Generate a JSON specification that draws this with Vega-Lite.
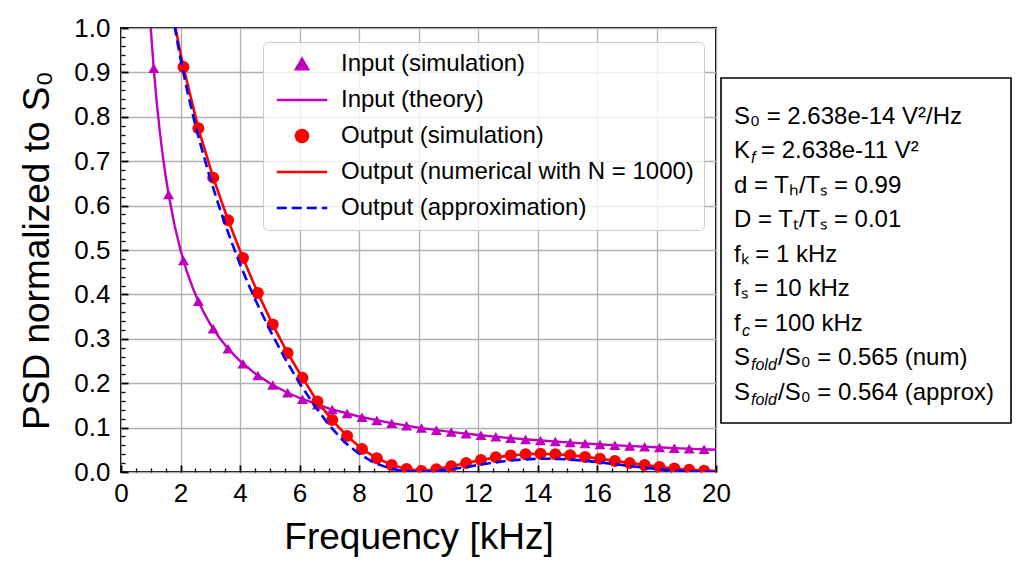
{
  "$schema": "https://vega.github.io/schema/vega-lite/v6.json",
  "background": "white",
  "padding": {"left": 17, "top": 14, "right": 5, "bottom": 5},
  "config": {
    "font": "Liberation Sans",
    "view": {"stroke": null}
  },
  "bounds": "flush",
  "spacing": 5,
  "hconcat": [
    {
      "width": 595,
      "height": 444,
      "view": {"stroke": "black", "strokeWidth": 2},
      "data": {
        "values": [
          {"series": "Input (simulation)", "f": 1.1, "v": 0.9091},
          {"series": "Input (simulation)", "f": 1.6, "v": 0.625},
          {"series": "Input (simulation)", "f": 2.1, "v": 0.4762},
          {"series": "Input (simulation)", "f": 2.6, "v": 0.3846},
          {"series": "Input (simulation)", "f": 3.1, "v": 0.3226},
          {"series": "Input (simulation)", "f": 3.6, "v": 0.2778},
          {"series": "Input (simulation)", "f": 4.1, "v": 0.2439},
          {"series": "Input (simulation)", "f": 4.6, "v": 0.2174},
          {"series": "Input (simulation)", "f": 5.1, "v": 0.1961},
          {"series": "Input (simulation)", "f": 5.6, "v": 0.1786},
          {"series": "Input (simulation)", "f": 6.1, "v": 0.1639},
          {"series": "Input (simulation)", "f": 6.6, "v": 0.1515},
          {"series": "Input (simulation)", "f": 7.1, "v": 0.1408},
          {"series": "Input (simulation)", "f": 7.6, "v": 0.1316},
          {"series": "Input (simulation)", "f": 8.1, "v": 0.1235},
          {"series": "Input (simulation)", "f": 8.6, "v": 0.1163},
          {"series": "Input (simulation)", "f": 9.1, "v": 0.1099},
          {"series": "Input (simulation)", "f": 9.6, "v": 0.1042},
          {"series": "Input (simulation)", "f": 10.1, "v": 0.099},
          {"series": "Input (simulation)", "f": 10.6, "v": 0.0943},
          {"series": "Input (simulation)", "f": 11.1, "v": 0.0901},
          {"series": "Input (simulation)", "f": 11.6, "v": 0.0862},
          {"series": "Input (simulation)", "f": 12.1, "v": 0.0826},
          {"series": "Input (simulation)", "f": 12.6, "v": 0.0794},
          {"series": "Input (simulation)", "f": 13.1, "v": 0.0763},
          {"series": "Input (simulation)", "f": 13.6, "v": 0.0735},
          {"series": "Input (simulation)", "f": 14.1, "v": 0.0709},
          {"series": "Input (simulation)", "f": 14.6, "v": 0.0685},
          {"series": "Input (simulation)", "f": 15.1, "v": 0.0662},
          {"series": "Input (simulation)", "f": 15.6, "v": 0.0641},
          {"series": "Input (simulation)", "f": 16.1, "v": 0.0621},
          {"series": "Input (simulation)", "f": 16.6, "v": 0.0602},
          {"series": "Input (simulation)", "f": 17.1, "v": 0.0585},
          {"series": "Input (simulation)", "f": 17.6, "v": 0.0568},
          {"series": "Input (simulation)", "f": 18.1, "v": 0.0552},
          {"series": "Input (simulation)", "f": 18.6, "v": 0.0538},
          {"series": "Input (simulation)", "f": 19.1, "v": 0.0524},
          {"series": "Input (simulation)", "f": 19.6, "v": 0.051},

          {"series": "Input (theory)", "f": 0.9, "v": 1.1111},
          {"series": "Input (theory)", "f": 0.95, "v": 1.0526},
          {"series": "Input (theory)", "f": 1.0, "v": 1.0},
          {"series": "Input (theory)", "f": 1.1, "v": 0.9091},
          {"series": "Input (theory)", "f": 1.2, "v": 0.8333},
          {"series": "Input (theory)", "f": 1.3, "v": 0.7692},
          {"series": "Input (theory)", "f": 1.4, "v": 0.7143},
          {"series": "Input (theory)", "f": 1.5, "v": 0.6667},
          {"series": "Input (theory)", "f": 1.6, "v": 0.625},
          {"series": "Input (theory)", "f": 1.8, "v": 0.5556},
          {"series": "Input (theory)", "f": 2.0, "v": 0.5},
          {"series": "Input (theory)", "f": 2.2, "v": 0.4545},
          {"series": "Input (theory)", "f": 2.4, "v": 0.4167},
          {"series": "Input (theory)", "f": 2.6, "v": 0.3846},
          {"series": "Input (theory)", "f": 2.8, "v": 0.3571},
          {"series": "Input (theory)", "f": 3.0, "v": 0.3333},
          {"series": "Input (theory)", "f": 3.3, "v": 0.303},
          {"series": "Input (theory)", "f": 3.6, "v": 0.2778},
          {"series": "Input (theory)", "f": 4.0, "v": 0.25},
          {"series": "Input (theory)", "f": 4.5, "v": 0.2222},
          {"series": "Input (theory)", "f": 5.0, "v": 0.2},
          {"series": "Input (theory)", "f": 5.5, "v": 0.1818},
          {"series": "Input (theory)", "f": 6.0, "v": 0.1667},
          {"series": "Input (theory)", "f": 7.0, "v": 0.1429},
          {"series": "Input (theory)", "f": 8.0, "v": 0.125},
          {"series": "Input (theory)", "f": 9.0, "v": 0.1111},
          {"series": "Input (theory)", "f": 10.0, "v": 0.1},
          {"series": "Input (theory)", "f": 11.0, "v": 0.0909},
          {"series": "Input (theory)", "f": 12.0, "v": 0.0833},
          {"series": "Input (theory)", "f": 13.0, "v": 0.0769},
          {"series": "Input (theory)", "f": 14.0, "v": 0.0714},
          {"series": "Input (theory)", "f": 15.0, "v": 0.0667},
          {"series": "Input (theory)", "f": 16.0, "v": 0.0625},
          {"series": "Input (theory)", "f": 17.0, "v": 0.0588},
          {"series": "Input (theory)", "f": 18.0, "v": 0.0556},
          {"series": "Input (theory)", "f": 19.0, "v": 0.0526},
          {"series": "Input (theory)", "f": 20.0, "v": 0.05},

          {"series": "Output (simulation)", "f": 2.1, "v": 0.912},
          {"series": "Output (simulation)", "f": 2.6, "v": 0.774},
          {"series": "Output (simulation)", "f": 3.1, "v": 0.663},
          {"series": "Output (simulation)", "f": 3.6, "v": 0.567},
          {"series": "Output (simulation)", "f": 4.1, "v": 0.482},
          {"series": "Output (simulation)", "f": 4.6, "v": 0.403},
          {"series": "Output (simulation)", "f": 5.1, "v": 0.332},
          {"series": "Output (simulation)", "f": 5.6, "v": 0.268},
          {"series": "Output (simulation)", "f": 6.1, "v": 0.212},
          {"series": "Output (simulation)", "f": 6.6, "v": 0.159},
          {"series": "Output (simulation)", "f": 7.1, "v": 0.117},
          {"series": "Output (simulation)", "f": 7.6, "v": 0.081},
          {"series": "Output (simulation)", "f": 8.1, "v": 0.052},
          {"series": "Output (simulation)", "f": 8.6, "v": 0.031},
          {"series": "Output (simulation)", "f": 9.1, "v": 0.016},
          {"series": "Output (simulation)", "f": 9.6, "v": 0.007},
          {"series": "Output (simulation)", "f": 10.1, "v": 0.002},
          {"series": "Output (simulation)", "f": 10.6, "v": 0.006},
          {"series": "Output (simulation)", "f": 11.1, "v": 0.013},
          {"series": "Output (simulation)", "f": 11.6, "v": 0.02},
          {"series": "Output (simulation)", "f": 12.1, "v": 0.027},
          {"series": "Output (simulation)", "f": 12.6, "v": 0.033},
          {"series": "Output (simulation)", "f": 13.1, "v": 0.037},
          {"series": "Output (simulation)", "f": 13.6, "v": 0.04},
          {"series": "Output (simulation)", "f": 14.1, "v": 0.041},
          {"series": "Output (simulation)", "f": 14.6, "v": 0.04},
          {"series": "Output (simulation)", "f": 15.1, "v": 0.038},
          {"series": "Output (simulation)", "f": 15.6, "v": 0.034},
          {"series": "Output (simulation)", "f": 16.1, "v": 0.03},
          {"series": "Output (simulation)", "f": 16.6, "v": 0.025},
          {"series": "Output (simulation)", "f": 17.1, "v": 0.02},
          {"series": "Output (simulation)", "f": 17.6, "v": 0.016},
          {"series": "Output (simulation)", "f": 18.1, "v": 0.011},
          {"series": "Output (simulation)", "f": 18.6, "v": 0.008},
          {"series": "Output (simulation)", "f": 19.1, "v": 0.005},
          {"series": "Output (simulation)", "f": 19.6, "v": 0.003},

          {"series": "Output (numerical with N = 1000)", "f": 1.8, "v": 1.013},
          {"series": "Output (numerical with N = 1000)", "f": 1.9, "v": 0.977},
          {"series": "Output (numerical with N = 1000)", "f": 2.0, "v": 0.943},
          {"series": "Output (numerical with N = 1000)", "f": 2.1, "v": 0.912},
          {"series": "Output (numerical with N = 1000)", "f": 2.6, "v": 0.774},
          {"series": "Output (numerical with N = 1000)", "f": 3.1, "v": 0.663},
          {"series": "Output (numerical with N = 1000)", "f": 3.6, "v": 0.567},
          {"series": "Output (numerical with N = 1000)", "f": 4.1, "v": 0.482},
          {"series": "Output (numerical with N = 1000)", "f": 4.6, "v": 0.403},
          {"series": "Output (numerical with N = 1000)", "f": 5.1, "v": 0.332},
          {"series": "Output (numerical with N = 1000)", "f": 5.6, "v": 0.268},
          {"series": "Output (numerical with N = 1000)", "f": 6.1, "v": 0.212},
          {"series": "Output (numerical with N = 1000)", "f": 6.6, "v": 0.159},
          {"series": "Output (numerical with N = 1000)", "f": 7.1, "v": 0.117},
          {"series": "Output (numerical with N = 1000)", "f": 7.6, "v": 0.081},
          {"series": "Output (numerical with N = 1000)", "f": 8.1, "v": 0.052},
          {"series": "Output (numerical with N = 1000)", "f": 8.6, "v": 0.031},
          {"series": "Output (numerical with N = 1000)", "f": 9.1, "v": 0.016},
          {"series": "Output (numerical with N = 1000)", "f": 9.6, "v": 0.007},
          {"series": "Output (numerical with N = 1000)", "f": 10.1, "v": 0.002},
          {"series": "Output (numerical with N = 1000)", "f": 10.6, "v": 0.006},
          {"series": "Output (numerical with N = 1000)", "f": 11.1, "v": 0.013},
          {"series": "Output (numerical with N = 1000)", "f": 11.6, "v": 0.02},
          {"series": "Output (numerical with N = 1000)", "f": 12.1, "v": 0.027},
          {"series": "Output (numerical with N = 1000)", "f": 12.6, "v": 0.033},
          {"series": "Output (numerical with N = 1000)", "f": 13.1, "v": 0.037},
          {"series": "Output (numerical with N = 1000)", "f": 13.6, "v": 0.04},
          {"series": "Output (numerical with N = 1000)", "f": 14.1, "v": 0.041},
          {"series": "Output (numerical with N = 1000)", "f": 14.6, "v": 0.04},
          {"series": "Output (numerical with N = 1000)", "f": 15.1, "v": 0.038},
          {"series": "Output (numerical with N = 1000)", "f": 15.6, "v": 0.034},
          {"series": "Output (numerical with N = 1000)", "f": 16.1, "v": 0.03},
          {"series": "Output (numerical with N = 1000)", "f": 16.6, "v": 0.025},
          {"series": "Output (numerical with N = 1000)", "f": 17.1, "v": 0.02},
          {"series": "Output (numerical with N = 1000)", "f": 17.6, "v": 0.016},
          {"series": "Output (numerical with N = 1000)", "f": 18.1, "v": 0.011},
          {"series": "Output (numerical with N = 1000)", "f": 18.6, "v": 0.008},
          {"series": "Output (numerical with N = 1000)", "f": 19.1, "v": 0.005},
          {"series": "Output (numerical with N = 1000)", "f": 19.6, "v": 0.003},
          {"series": "Output (numerical with N = 1000)", "f": 20.0, "v": 0.002},

          {"series": "Output (approximation)", "f": 1.8, "v": 1.005},
          {"series": "Output (approximation)", "f": 1.9, "v": 0.967},
          {"series": "Output (approximation)", "f": 2.0, "v": 0.931},
          {"series": "Output (approximation)", "f": 2.25, "v": 0.851},
          {"series": "Output (approximation)", "f": 2.5, "v": 0.781},
          {"series": "Output (approximation)", "f": 2.75, "v": 0.719},
          {"series": "Output (approximation)", "f": 3.0, "v": 0.661},
          {"series": "Output (approximation)", "f": 3.25, "v": 0.608},
          {"series": "Output (approximation)", "f": 3.5, "v": 0.558},
          {"series": "Output (approximation)", "f": 3.75, "v": 0.512},
          {"series": "Output (approximation)", "f": 4.0, "v": 0.468},
          {"series": "Output (approximation)", "f": 4.25, "v": 0.428},
          {"series": "Output (approximation)", "f": 4.5, "v": 0.39},
          {"series": "Output (approximation)", "f": 5.0, "v": 0.32},
          {"series": "Output (approximation)", "f": 5.5, "v": 0.257},
          {"series": "Output (approximation)", "f": 6.0, "v": 0.2},
          {"series": "Output (approximation)", "f": 6.5, "v": 0.15},
          {"series": "Output (approximation)", "f": 7.0, "v": 0.105},
          {"series": "Output (approximation)", "f": 7.5, "v": 0.068},
          {"series": "Output (approximation)", "f": 8.0, "v": 0.041},
          {"series": "Output (approximation)", "f": 8.5, "v": 0.021},
          {"series": "Output (approximation)", "f": 9.0, "v": 0.009},
          {"series": "Output (approximation)", "f": 9.5, "v": 0.002},
          {"series": "Output (approximation)", "f": 10.0, "v": 0.0},
          {"series": "Output (approximation)", "f": 10.5, "v": 0.0015},
          {"series": "Output (approximation)", "f": 11.0, "v": 0.0052},
          {"series": "Output (approximation)", "f": 11.5, "v": 0.0103},
          {"series": "Output (approximation)", "f": 12.0, "v": 0.0157},
          {"series": "Output (approximation)", "f": 12.5, "v": 0.0209},
          {"series": "Output (approximation)", "f": 13.0, "v": 0.0252},
          {"series": "Output (approximation)", "f": 13.5, "v": 0.0282},
          {"series": "Output (approximation)", "f": 14.0, "v": 0.0297},
          {"series": "Output (approximation)", "f": 14.5, "v": 0.0298},
          {"series": "Output (approximation)", "f": 15.0, "v": 0.0284},
          {"series": "Output (approximation)", "f": 15.5, "v": 0.0259},
          {"series": "Output (approximation)", "f": 16.0, "v": 0.0224},
          {"series": "Output (approximation)", "f": 16.5, "v": 0.0185},
          {"series": "Output (approximation)", "f": 17.0, "v": 0.0143},
          {"series": "Output (approximation)", "f": 17.5, "v": 0.0103},
          {"series": "Output (approximation)", "f": 18.0, "v": 0.0067},
          {"series": "Output (approximation)", "f": 18.5, "v": 0.0038},
          {"series": "Output (approximation)", "f": 19.0, "v": 0.0017},
          {"series": "Output (approximation)", "f": 19.5, "v": 0.0004},
          {"series": "Output (approximation)", "f": 20.0, "v": 0.0}
        ]
      },
      "encoding": {
        "color": {
          "field": "series",
          "type": "nominal",
          "scale": {
            "domain": ["Input (simulation)", "Input (theory)", "Output (simulation)", "Output (numerical with N = 1000)", "Output (approximation)"],
            "range": ["#bf00bf", "#bf00bf", "#ff0000", "#ff0000", "#0000ff"]
          },
          "legend": {
            "title": null,
            "orient": "none",
            "legendX": 142,
            "legendY": 14,
            "labelFontSize": 24,
            "labelColor": "black",
            "labelLimit": 600,
            "padding": 10,
            "symbolOffset": 17,
            "labelOffset": 27,
            "rowPadding": 12,
            "symbolSize": 144,
            "symbolStrokeWidth": 2.5,
            "strokeColor": "#cccccc",
            "fillColor": "rgba(255,255,255,0.8)",
            "cornerRadius": 5,
            "encode": {
              "symbols": {
                "update": {
                  "shape": {"signal": "datum.value === 'Input (simulation)' ? 'triangle-up' : datum.value === 'Output (simulation)' ? 'circle' : 'M-4.2,0L4.2,0'"},
                  "fill": {"signal": "datum.value === 'Input (simulation)' ? '#bf00bf' : datum.value === 'Output (simulation)' ? '#ff0000' : 'transparent'"},
                  "stroke": {"signal": "datum.value === 'Input (theory)' ? '#bf00bf' : datum.value === 'Output (numerical with N = 1000)' ? '#ff0000' : datum.value === 'Output (approximation)' ? '#0000ff' : 'transparent'"},
                  "strokeDash": {"signal": "datum.value === 'Output (approximation)' ? [10, 5] : [1, 0]"},
                  "strokeWidth": {"value": 2.5},
                  "size": {"value": 144},
                  "opacity": {"value": 1}
                }
              }
            }
          }
        }
      },
      "layer": [
        {
          "transform": [{"filter": "datum.series === 'Input (simulation)'"}],
          "mark": {"type": "point", "shape": "triangle-up", "filled": true, "size": 121, "opacity": 1, "clip": true},
          "encoding": {
            "x": {
              "field": "f", "type": "quantitative",
              "scale": {"domain": [0, 20], "nice": false, "zero": false},
              "axis": {
                "orient": "bottom",
                "values": [0, 2, 4, 6, 8, 10, 12, 14, 16, 18, 20],
                "format": "d",
                "title": "Frequency [kHz]",
                "grid": true, "gridColor": "#b0b0b0", "gridWidth": 1.3,
                "domain": false,
                "tickSize": -7, "tickWidth": 1.8, "tickColor": "black",
                "labelFontSize": 26, "labelColor": "black", "labelPadding": 15,
                "labelFlush": false, "labelOverlap": false,
                "titleFontSize": 37, "titleFontWeight": "normal", "titleColor": "black", "titlePadding": 13
              }
            },
            "y": {
              "field": "v", "type": "quantitative",
              "scale": {"domain": [0, 1], "nice": false},
              "axis": {
                "orient": "left",
                "values": [0, 0.1, 0.2, 0.3, 0.4, 0.5, 0.6, 0.7, 0.8, 0.9, 1],
                "format": ".1f",
                "title": "PSD normalized to S₀",
                "grid": true, "gridColor": "#b0b0b0", "gridWidth": 1.3,
                "domain": false,
                "tickSize": -7, "tickWidth": 1.8, "tickColor": "black",
                "labelFontSize": 26, "labelColor": "black", "labelPadding": 18,
                "labelFlush": false, "labelOverlap": false,
                "titleFontSize": 37, "titleFontWeight": "normal", "titleColor": "black", "titlePadding": 17
              }
            }
          }
        },
        {
          "transform": [{"filter": "datum.series === 'Input (theory)'"}],
          "mark": {"type": "line", "strokeWidth": 2.4, "clip": true},
          "encoding": {
            "x": {
              "field": "f", "type": "quantitative",
              "scale": {"domain": [0, 20], "nice": false, "zero": false},
              "axis": {
                "orient": "bottom",
                "values": [0.5, 1, 1.5, 2.5, 3, 3.5, 4.5, 5, 5.5, 6.5, 7, 7.5, 8.5, 9, 9.5, 10.5, 11, 11.5, 12.5, 13, 13.5, 14.5, 15, 15.5, 16.5, 17, 17.5, 18.5, 19, 19.5],
                "labels": false, "grid": false, "domain": false, "title": null,
                "tickSize": -4, "tickWidth": 1.3, "tickColor": "black"
              }
            },
            "y": {
              "field": "v", "type": "quantitative",
              "scale": {"domain": [0, 1], "nice": false},
              "axis": {
                "orient": "left",
                "values": [0.02, 0.04, 0.06, 0.08, 0.12, 0.14, 0.16, 0.18, 0.22, 0.24, 0.26, 0.28, 0.32, 0.34, 0.36, 0.38, 0.42, 0.44, 0.46, 0.48, 0.52, 0.54, 0.56, 0.58, 0.62, 0.64, 0.66, 0.68, 0.72, 0.74, 0.76, 0.78, 0.82, 0.84, 0.86, 0.88, 0.92, 0.94, 0.96, 0.98],
                "labels": false, "grid": false, "domain": false, "title": null,
                "tickSize": -4, "tickWidth": 1.3, "tickColor": "black"
              }
            }
          }
        },
        {
          "transform": [{"filter": "datum.series === 'Output (simulation)'"}],
          "mark": {"type": "point", "shape": "circle", "filled": true, "size": 144, "opacity": 1, "clip": true},
          "encoding": {
            "x": {"field": "f", "type": "quantitative", "scale": {"domain": [0, 20], "nice": false, "zero": false}, "axis": null},
            "y": {"field": "v", "type": "quantitative", "scale": {"domain": [0, 1], "nice": false}, "axis": null}
          }
        },
        {
          "transform": [{"filter": "datum.series === 'Output (numerical with N = 1000)'"}],
          "mark": {"type": "line", "strokeWidth": 2.6, "clip": true},
          "encoding": {
            "x": {"field": "f", "type": "quantitative", "scale": {"domain": [0, 20], "nice": false, "zero": false}, "axis": null},
            "y": {"field": "v", "type": "quantitative", "scale": {"domain": [0, 1], "nice": false}, "axis": null}
          }
        },
        {
          "transform": [{"filter": "datum.series === 'Output (approximation)'"}],
          "mark": {"type": "line", "strokeWidth": 2.6, "strokeDash": [10, 5], "clip": true},
          "encoding": {
            "x": {"field": "f", "type": "quantitative", "scale": {"domain": [0, 20], "nice": false, "zero": false}, "axis": null},
            "y": {"field": "v", "type": "quantitative", "scale": {"domain": [0, 1], "nice": false}, "axis": null}
          }
        }
      ],
      "resolve": {"axis": {"x": "independent", "y": "independent"}}
    },
    {
      "bounds": "flush",
      "spacing": 0,
      "vconcat": [
        {
          "width": 290,
          "height": 50,
          "data": {"values": [{"line": 0}]},
          "mark": {"type": "text", "text": ""},
          "encoding": {},
          "view": {"stroke": null}
        },
        {
          "width": 290,
          "height": 345,
          "view": {"stroke": "black", "strokeWidth": 1.6},
          "data": {
            "values": [
              {"line": 1, "txt": "S₀ = 2.638e-14 V²/Hz", "head": "", "sub": "", "tail": ""},
              {"line": 2, "txt": "", "head": "K", "sub": "f", "tail": "= 2.638e-11 V²"},
              {"line": 3, "txt": "d = Tₕ/Tₛ = 0.99", "head": "", "sub": "", "tail": ""},
              {"line": 4, "txt": "D = Tₜ/Tₛ = 0.01", "head": "", "sub": "", "tail": ""},
              {"line": 5, "txt": "fₖ = 1 kHz", "head": "", "sub": "", "tail": ""},
              {"line": 6, "txt": "fₛ = 10 kHz", "head": "", "sub": "", "tail": ""},
              {"line": 7, "txt": "", "head": "f", "sub": "c", "tail": "= 100 kHz"},
              {"line": 8, "txt": "", "head": "S", "sub": "fold", "tail": "/S₀ = 0.565 (num)"},
              {"line": 9, "txt": "", "head": "S", "sub": "fold", "tail": "/S₀ = 0.564 (approx)"}
            ]
          },
          "encoding": {
            "y": {"field": "line", "type": "ordinal", "scale": {"type": "point", "padding": 1}, "axis": null},
            "x": {"datum": 0, "type": "quantitative", "scale": {"domain": [0, 1]}, "axis": null}
          },
          "layer": [
            {
              "mark": {"type": "text", "align": "left", "baseline": "middle", "dx": 13, "dy": 4, "fontSize": 24, "color": "black"},
              "encoding": {"text": {"field": "txt"}}
            },
            {
              "mark": {"type": "text", "align": "left", "baseline": "middle", "dx": 13, "dy": 4, "fontSize": 24, "color": "black"},
              "encoding": {"text": {"field": "head"}}
            },
            {
              "transform": [{"filter": "datum.line !== 7"}],
              "mark": {"type": "text", "align": "left", "baseline": "middle", "dx": 30, "dy": 11, "fontSize": 16, "fontStyle": "italic", "color": "black"},
              "encoding": {"text": {"field": "sub"}}
            },
            {
              "transform": [{"filter": "datum.line === 7"}],
              "mark": {"type": "text", "align": "left", "baseline": "middle", "dx": 21, "dy": 11, "fontSize": 16, "fontStyle": "italic", "color": "black"},
              "encoding": {"text": {"field": "sub"}}
            },
            {
              "transform": [{"filter": "datum.line === 2"}],
              "mark": {"type": "text", "align": "left", "baseline": "middle", "dx": 40, "dy": 4, "fontSize": 24, "color": "black"},
              "encoding": {"text": {"field": "tail"}}
            },
            {
              "transform": [{"filter": "datum.line === 7"}],
              "mark": {"type": "text", "align": "left", "baseline": "middle", "dx": 33, "dy": 4, "fontSize": 24, "color": "black"},
              "encoding": {"text": {"field": "tail"}}
            },
            {
              "transform": [{"filter": "datum.line === 8 || datum.line === 9"}],
              "mark": {"type": "text", "align": "left", "baseline": "middle", "dx": 57, "dy": 4, "fontSize": 24, "color": "black"},
              "encoding": {"text": {"field": "tail"}}
            }
          ]
        }
      ]
    }
  ]
}
